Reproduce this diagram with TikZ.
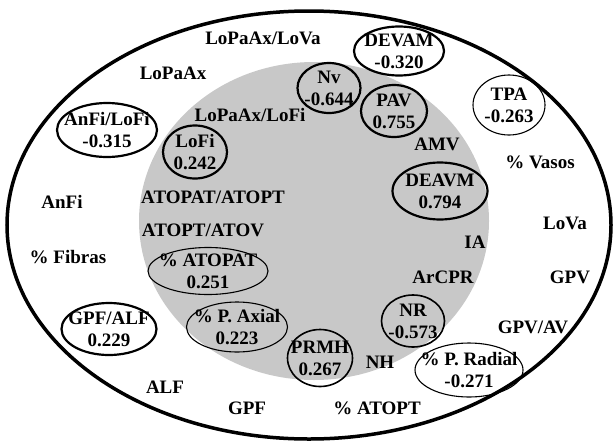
\documentclass[tikz,border=0pt]{standalone}
\usepackage{fontspec}
\setmainfont{Liberation Serif}
\usetikzlibrary{shapes.geometric}
\definecolor{zone}{RGB}{200,200,200}

\begin{document}
\begin{tikzpicture}[x=1pt,y=-1pt,
    every node/.style={font=\fontsize{19}{22}\selectfont\bfseries, inner sep=0pt, align=center},
    var/.style={ellipse, draw, line width=2.2pt},
    varmid/.style={var, line width=1.6pt},
    varthin/.style={var, line width=1.1pt}]
\useasboundingbox (0,0) rectangle (615,442);
\draw[line width=3.5pt] (309,225) ellipse [x radius=302, y radius=214];
\fill[zone] (314,221) ellipse [x radius=175, y radius=159];

\node (lopaaxlova) at (263,38) {LoPaAx/LoVa};
\node (lopaax) at (173,73) {LoPaAx};
\node (lopaaxlofi) at (250,115) {LoPaAx/LoFi};
\node (amv) at (437,144) {AMV};
\node (vasos) at (540,162) {\% Vasos};
\node (anfi) at (62,202) {AnFi};
\node (atopatatopt) at (213,197) {ATOPAT/ATOPT};
\node (atoptatov) at (203,230) {ATOPT/ATOV};
\node (lova) at (565,223) {LoVa};
\node (ia) at (475,242) {IA};
\node (fibras) at (68,257) {\% Fibras};
\node (arcpr) at (443,277) {ArCPR};
\node (gpv) at (570,277) {GPV};
\node (gpvav) at (533,327) {GPV/AV};
\node (nh) at (380,362) {NH};
\node (alf) at (165,387) {ALF};
\node (gpf) at (247,408) {GPF};
\node (atopt) at (377,408) {\% ATOPT};

\node[var, minimum width=90, minimum height=49, label=center:{DEVAM\\-0.320}] (devam) at (399,51) {};
\node[var, minimum width=63, minimum height=50, label=center:{Nv\\-0.644}] (nv) at (329,88) {};
\node[var, minimum width=66, minimum height=52, label=center:{PAV\\0.755}] (pav) at (394,111) {};
\node[varthin, minimum width=72, minimum height=60, label=center:{TPA\\-0.263}] (tpa) at (509,105) {};
\node[var, minimum width=100, minimum height=54, label=center:{AnFi/LoFi\\-0.315}] (anfilofi) at (107,130) {};
\node[var, minimum width=64, minimum height=53, label=center:{LoFi\\0.242}] (lofi) at (195,152) {};
\node[var, minimum width=95, minimum height=57, label=center:{DEAVM\\0.794}] (deavm) at (440,191) {};
\node[varthin, minimum width=120, minimum height=47, label=center:{\% ATOPAT\\0.251}] (atopat) at (208,271) {};
\node[varmid, minimum width=63, minimum height=52, label=center:{NR\\-0.573}] (nr) at (413,321) {};
\node[var, minimum width=95, minimum height=52, label=center:{GPF/ALF\\0.229}] (gpfalf) at (109,329) {};
\node[varthin, minimum width=101, minimum height=50, label=center:{\% P. Axial\\0.223}] (paxial) at (237,327) {};
\node[varmid, minimum width=65, minimum height=57, label=center:{PRMH\\0.267}] (prmh) at (320,358) {};
\node[varthin, minimum width=108, minimum height=54, label=center:{\% P. Radial\\-0.271}] (pradial) at (469,370) {};
\end{tikzpicture}
\end{document}
